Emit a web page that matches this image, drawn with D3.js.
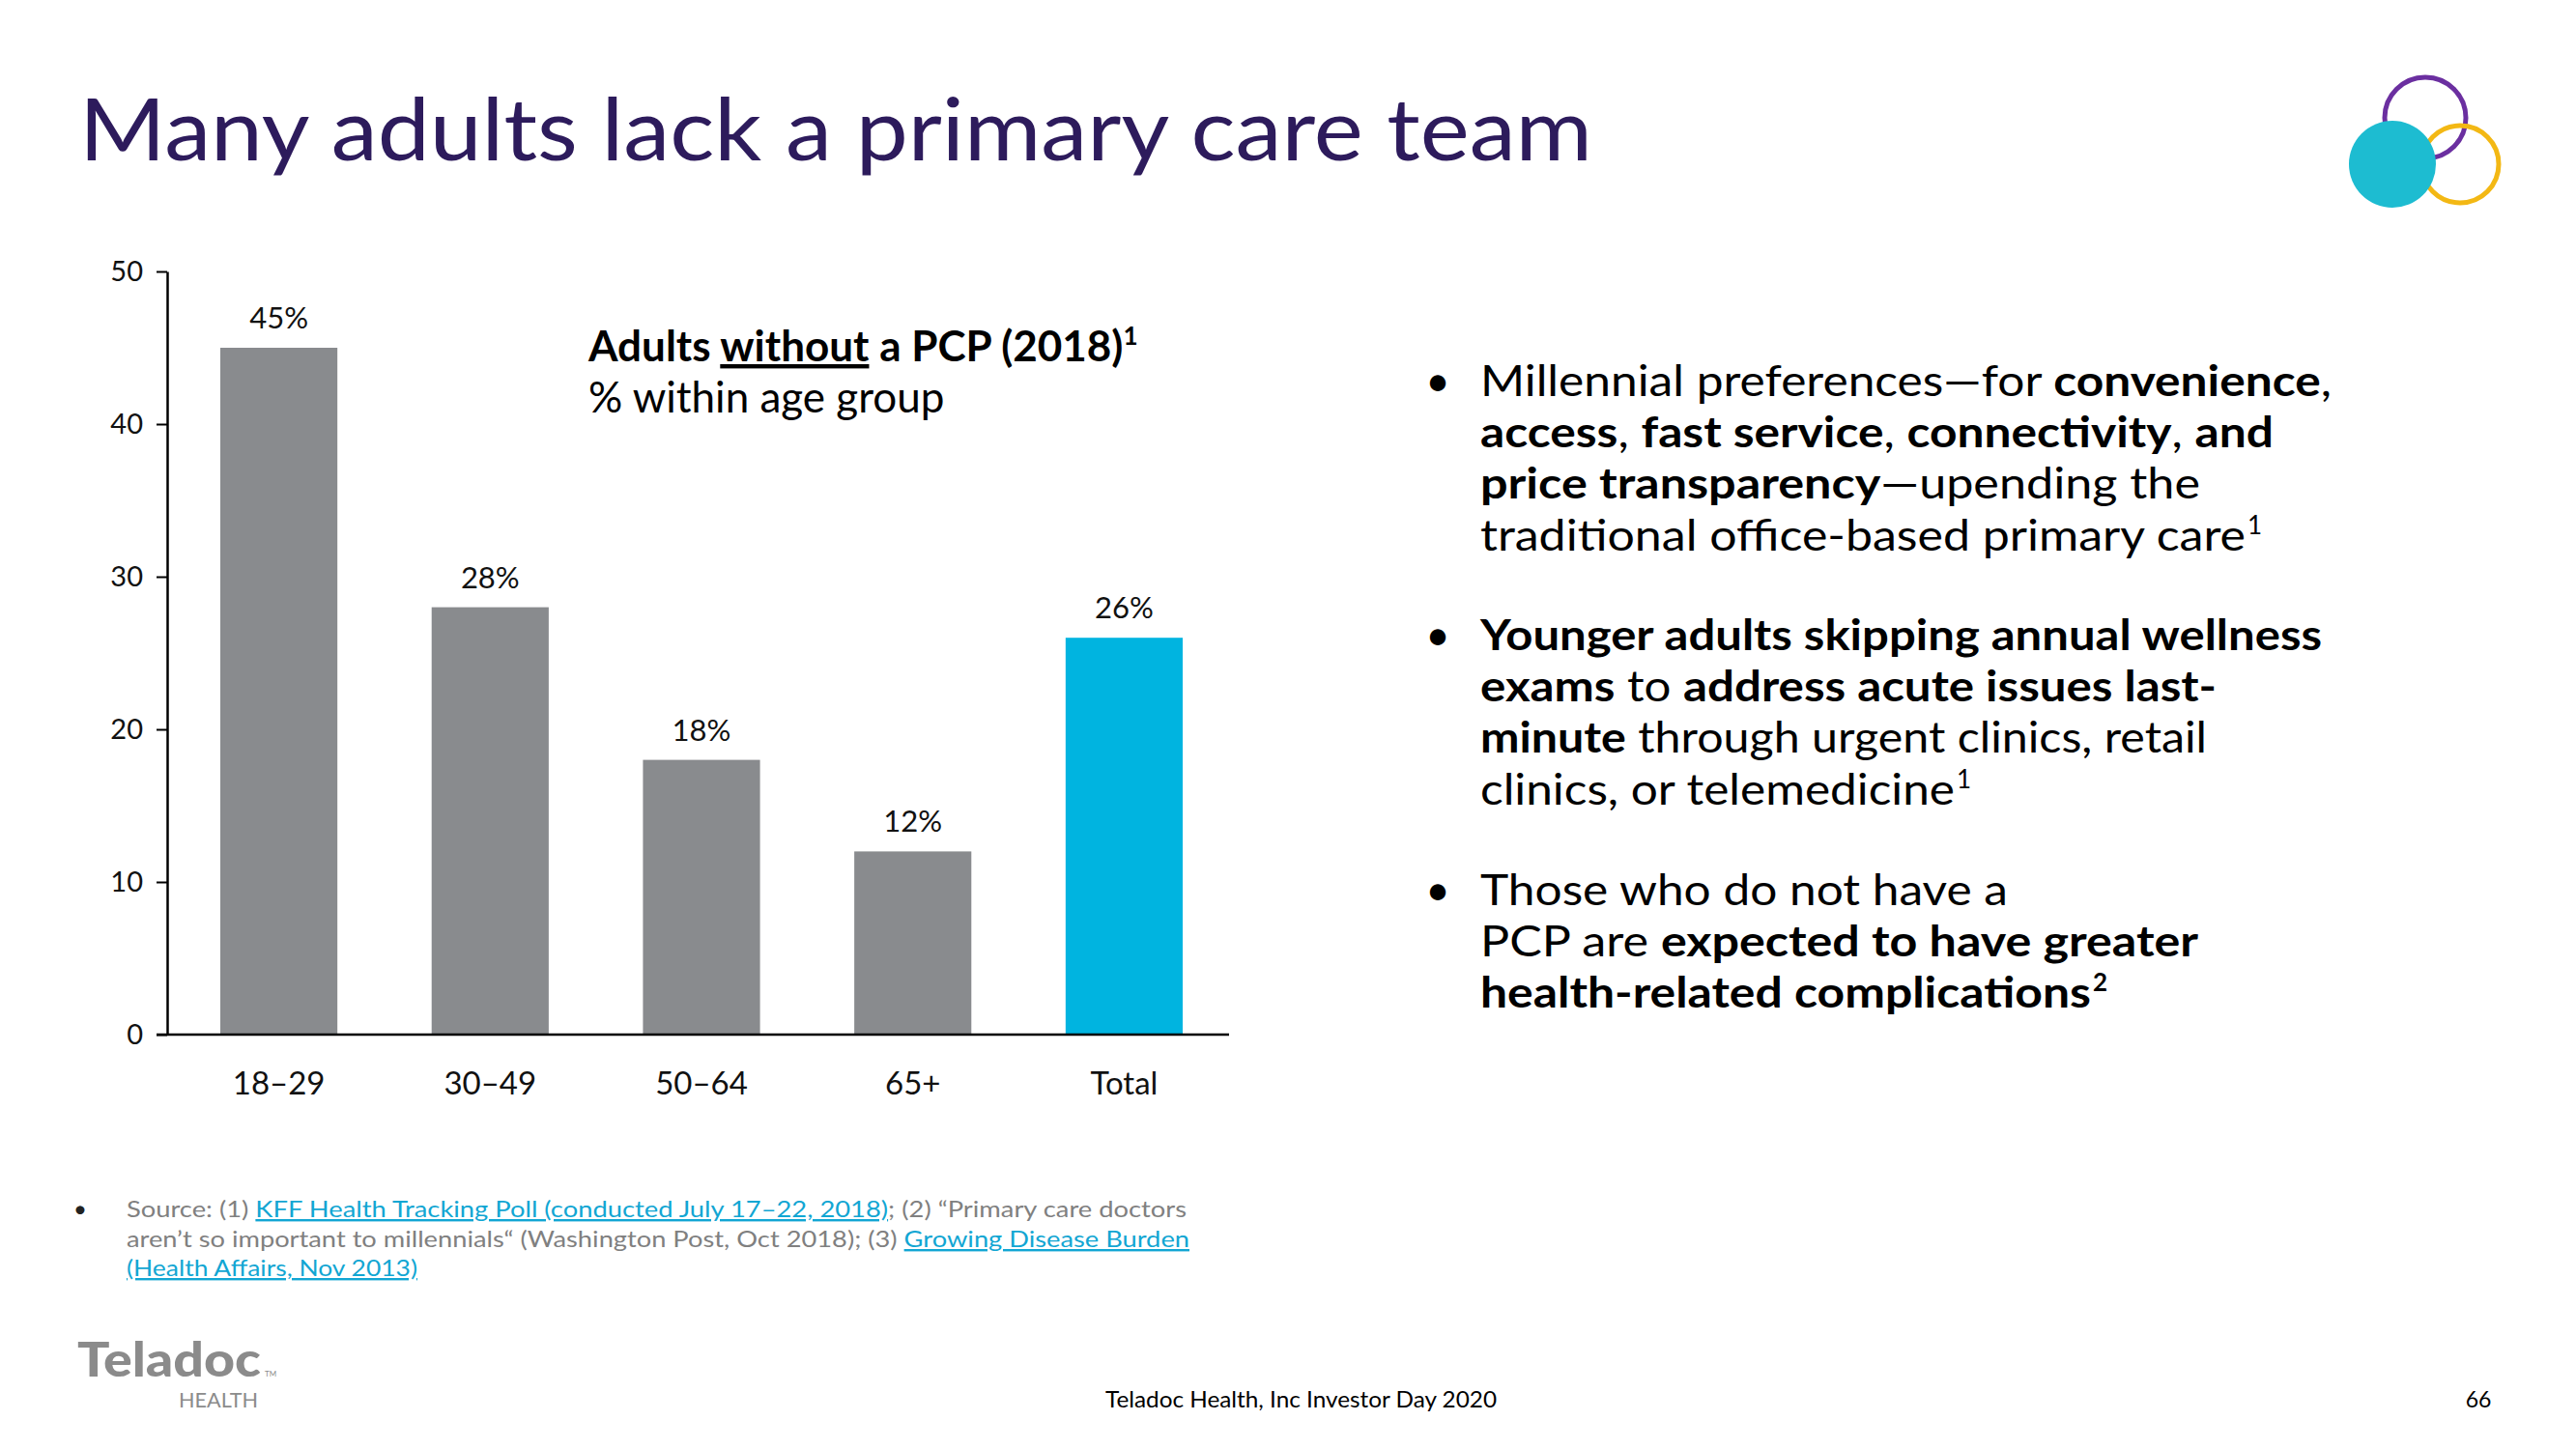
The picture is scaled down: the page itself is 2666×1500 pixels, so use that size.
<!DOCTYPE html>
<html>
<head>
<meta charset="utf-8">
<script src="https://cdn.jsdelivr.net/npm/d3@7"></script>
<style>
  html, body { margin: 0; padding: 0; background: #ffffff; }
  svg { display: block; }
  text { font-family: Lato, "Noto Sans", sans-serif; }
</style>
</head>
<body>
<script>
// ---------------- data ----------------
const categories = ["18–29", "30–49", "50–64", "65+", "Total"];
const values = [45, 28, 18, 12, 26];
const valueLabels = ["45%", "28%", "18%", "12%", "26%"];
const yTicks = [0, 10, 20, 30, 40, 50];

const titleText = "Many adults lack a primary care team";
const chartTitleParts = [["Adults ", false], ["without", true], [" a PCP (2018)", false]];
const chartSubtitle = "% within age group";

// bullet lines: [text, bold] segments, optional superscript
const bullets = [
  [
    { segs: [["Millennial preferences—for ", 0], ["convenience", 1], [",", 0]] },
    { segs: [["access", 1], [", ", 0], ["fast service", 1], [", ", 0], ["connectivity", 1], [", ", 0], ["and", 1]] },
    { segs: [["price transparency", 1], ["—upending the", 0]] },
    { segs: [["traditional office-based primary care", 0]], sup: "1" }
  ],
  [
    { segs: [["Younger adults skipping annual wellness", 1]] },
    { segs: [["exams", 1], [" to ", 0], ["address acute issues last-", 1]] },
    { segs: [["minute", 1], [" through urgent clinics, retail", 0]] },
    { segs: [["clinics, or telemedicine", 0]], sup: "1" }
  ],
  [
    { segs: [["Those who do not have a", 0]] },
    { segs: [["PCP are ", 0], ["expected to have greater", 1]] },
    { segs: [["health-related complications", 1]], sup: "2" }
  ]
];

const sourceLines = [
  [["Source: (1) ", 0], ["KFF Health Tracking Poll (conducted July 17–22, 2018)", 1], ["; (2) “Primary care doctors", 0]],
  [["aren’t so important to millennials“ (Washington Post, Oct 2018); (3) ", 0], ["Growing Disease Burden", 1]],
  [["(Health Affairs, Nov 2013)", 1]]
];

const footerText = "Teladoc Health, Inc Investor Day 2020";
const pageNumber = "66";

// ---------------- layout / style ----------------
const W = 2666, H = 1500;
const GRAY = "#898b8e", CYAN = "#00b4e0", PURPLE_TITLE = "#2d1b5c";

const svg = d3.select("body").append("svg")
  .attr("width", W).attr("height", H).attr("viewBox", `0 0 ${W} ${H}`);
svg.append("rect").attr("width", W).attr("height", H).attr("fill", "#fff");

// Title
svg.append("text")
  .attr("x", 82).attr("y", 166)
  .attr("font-size", 90).attr("font-weight", 400)
  .attr("fill", PURPLE_TITLE)
  .attr("textLength", 1566).attr("lengthAdjust", "spacingAndGlyphs")
  .text(titleText);

// Logo circles
const logo = svg.append("g");
logo.append("circle").attr("cx", 2510).attr("cy", 122).attr("r", 42)
  .attr("fill", "none").attr("stroke", "#6b2fa0").attr("stroke-width", 5);
logo.append("circle").attr("cx", 2546).attr("cy", 170).attr("r", 40)
  .attr("fill", "none").attr("stroke", "#f3b814").attr("stroke-width", 5);
logo.append("circle").attr("cx", 2476).attr("cy", 170).attr("r", 45)
  .attr("fill", "#1dbcd1");

// ---------------- chart ----------------
const x = d3.scaleBand().domain(categories)
  .range([173, 1272]).paddingInner(0.446).paddingOuter(0.2355).align(0.534);
const y = d3.scaleLinear().domain([0, 50]).range([1071, 281]);

const chart = svg.append("g");

chart.selectAll("rect.bar").data(categories).join("rect")
  .attr("class", "bar")
  .attr("x", d => x(d))
  .attr("y", (d, i) => y(values[i]))
  .attr("width", x.bandwidth())
  .attr("height", (d, i) => y(0) - y(values[i]))
  .attr("fill", d => d === "Total" ? CYAN : GRAY);

chart.selectAll("text.vlab").data(categories).join("text")
  .attr("class", "vlab")
  .attr("x", d => x(d) + x.bandwidth() / 2)
  .attr("y", (d, i) => y(values[i]) - 20)
  .attr("text-anchor", "middle")
  .attr("font-size", 31).attr("fill", "#111")
  .text((d, i) => valueLabels[i]);

// Y axis
const yAxis = chart.append("g").attr("transform", "translate(173,0)")
  .call(d3.axisLeft(y).tickValues(yTicks).tickSize(11).tickSizeOuter(0).tickPadding(14));
yAxis.select(".domain").attr("stroke", "#000").attr("stroke-width", 2.5);
yAxis.selectAll(".tick line").attr("stroke", "#000").attr("stroke-width", 2);
yAxis.selectAll(".tick text").attr("font-size", 29).attr("fill", "#111")
  .attr("font-family", "Lato, 'Noto Sans', sans-serif");

// X axis
const xAxis = chart.append("g").attr("transform", `translate(0,${y(0)})`)
  .call(d3.axisBottom(x).tickSize(0).tickSizeOuter(0).tickPadding(39));
xAxis.select(".domain").attr("stroke", "#000").attr("stroke-width", 2.5)
  .attr("d", `M${173 - 11},0H1272`);
xAxis.selectAll(".tick text").attr("font-size", 33).attr("fill", "#111")
  .attr("font-family", "Lato, 'Noto Sans', sans-serif");

// Chart title
const ct = svg.append("text").attr("x", 609).attr("y", 374)
  .attr("font-size", 44).attr("font-weight", 700).attr("fill", "#000");
chartTitleParts.forEach(([t, u]) => {
  const ts = ct.append("tspan").text(t);
  if (u) ts.attr("text-decoration", "underline");
});
ct.append("tspan").attr("font-size", 26).attr("dy", -17).text("1");
svg.append("text").attr("x", 609).attr("y", 427)
  .attr("font-size", 44).attr("fill", "#000").text(chartSubtitle);

// ---------------- bullets ----------------
const bulletTops = [410, 673, 937];
const lineGap = 53.2;
const lineEnds = [
  [2413, 2353, 2277, 2338],
  [2403, 2294, 2284, 2037],
  [2078, 2275, 2178]
];
bullets.forEach((b, bi) => {
  svg.append("text").attr("x", 1488).attr("y", bulletTops[bi])
    .attr("font-size", 44).attr("text-anchor", "middle").attr("fill", "#000").text("•");
  b.forEach((line, li) => {
    const by = bulletTops[bi] + li * lineGap;
    const t = svg.append("text").attr("x", 1532).attr("y", by)
      .attr("font-size", 44).attr("fill", "#000");
    line.segs.forEach(([s, bold]) => {
      t.append("tspan").attr("font-weight", bold ? 700 : 400).text(s);
    });
    const supW = line.sup ? 14 : 0;
    t.attr("textLength", lineEnds[bi][li] - 1532 - supW).attr("lengthAdjust", "spacingAndGlyphs");
    if (line.sup) {
      svg.append("text").attr("x", lineEnds[bi][li] - supW + 2).attr("y", by - 17)
        .attr("font-size", 26).attr("font-weight", line.segs[line.segs.length - 1][1] ? 700 : 400)
        .attr("fill", "#000").text(line.sup);
    }
  });
});

// ---------------- source ----------------
const srcY = [1260, 1291, 1321];
const srcEnds = [1228, 1231, 432];
svg.append("text").attr("x", 76).attr("y", srcY[0])
  .attr("font-size", 24).attr("fill", "#222").text("•");
sourceLines.forEach((line, i) => {
  const t = svg.append("text").attr("x", 131).attr("y", srcY[i]).attr("font-size", 24);
  line.forEach(([s, link]) => {
    const ts = t.append("tspan").text(s).attr("fill", link ? "#12a6d3" : "#808080");
    if (link) ts.attr("text-decoration", "underline");
  });
  t.attr("textLength", srcEnds[i] - 131).attr("lengthAdjust", "spacingAndGlyphs");
});

// ---------------- footer ----------------
svg.append("text").attr("x", 80).attr("y", 1425)
  .attr("font-size", 50).attr("font-weight", 900).attr("fill", "#8b8b8b")
  .attr("textLength", 190).attr("lengthAdjust", "spacingAndGlyphs").text("Teladoc");
svg.append("text").attr("x", 274).attr("y", 1425)
  .attr("font-size", 8).attr("fill", "#8b8b8b").text("TM");
svg.append("text").attr("x", 185).attr("y", 1457)
  .attr("font-size", 21).attr("font-weight", 400).attr("fill", "#8b8b8b")
  .attr("textLength", 82).attr("lengthAdjust", "spacingAndGlyphs").text("HEALTH");
svg.append("text").attr("x", 1144).attr("y", 1457)
  .attr("font-size", 23).attr("fill", "#000")
  .attr("textLength", 405).attr("lengthAdjust", "spacingAndGlyphs").text(footerText);
svg.append("text").attr("x", 2565).attr("y", 1457).attr("text-anchor", "middle")
  .attr("font-size", 23).attr("fill", "#000").text(pageNumber);
</script>
</body>
</html>
